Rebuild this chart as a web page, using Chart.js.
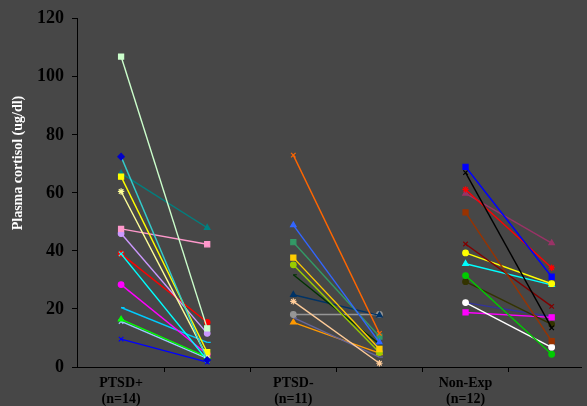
<!DOCTYPE html>
<html><head><meta charset="utf-8">
<script src="https://cdn.jsdelivr.net/npm/chart.js@4/dist/chart.umd.min.js"></script>
<style>html,body{margin:0;padding:0;background:#474747;overflow:hidden}#wrap{width:587px;height:406px;position:relative}canvas{display:block}</style>
</head><body><div id="wrap"><canvas id="c" width="587" height="406"></canvas></div>
<script>
// ---- data ----
const groupLabels = [["PTSD+", "(n=14)"], ["PTSD-", "(n=11)"], ["Non-Exp", "(n=12)"]];
const groupPositions = [1, 3, 5];           // pre-test positions; post = +1
const yTickValues = [0, 20, 40, 60, 80, 100, 120];
const yAxisTitle = "Plasma cortisol (ug/dl)";

const ptsdPlusPre  = [107, 72.5, 65.6, 66.7, 60.5, 47.6, 46, 39, 39, 28.4, 20.5, 16.4, 15.7, 9.6];
const ptsdPlusPost = [13.3, 2.4, 5.1, 48, 3.4, 42.3, 11.6, 2.4, 15.4, 4.4, 8.5, 3.4, 3, 1.7];

const ptsdMinusPre  = [73, 48.9, 43, 37.7, 35.2, 31.8, 24.9, 22.6, 18.1, 17, 15.4];
const ptsdMinusPost = [11.6, 8.5, 10.5, 6.2, 5, 7.9, 17.8, 1.3, 18.1, 3.4, 4.8];

const nonExpPre  = [69, 67, 61.2, 59.8, 53.3, 42.4, 39.3, 35.6, 31.5, 29.4, 22.2, 18.8, 22.2];
const nonExpPost = [31.1, 13.5, 34.2, 42.7, 8.9, 20.9, 28.7, 28.3, 4.4, 14.7, 6.8, 17.1, 17.3];

// ---- styles ----
const ptsdPlusLine   = ['#ccffcc','#33cccc','#ffff00','#008080','#ffff99','#ff99cc','#cc99ff','#00ffff','#ff0000','#ff00ff','#00ccff','#00ff00','#99ccff','#0000ff'];
const ptsdPlusMarker = ['#ccffcc','#0000cc','#ffff00','#008080','#ffff99','#ff99cc','#cc99ff','#00ffff','#ff0000','#ff00ff','#00ccff','#00ff00','#99ccff','#0000ff'];
const ptsdPlusShape  = ['rect','rectRot','rect','triangle','star','rect','circle','crossRot','circle','circle','dash','triangle','crossRot','crossRot'];

const ptsdMinusLine   = ['#ff6600','#3366ff','#339966','#ffcc00','#99cc00','#003300','#003366','#ffcc99','#969696','#666699','#ff9900'];
const ptsdMinusShape  = ['crossRot','triangle','rect','rect','circle','dash','triangle','star','circle','dash','triangle'];

const nonExpLine  = ['#0000ff','#000000','#ff0000','#993366','#993300','#800000','#ffff00','#00ffff','#00cc00','#333300','#ffffff','#ff00ff','#333399'];
const nonExpShape = ['rect','crossRot','star','triangle','rect','crossRot','circle','triangle','circle','circle','circle','rect',false];

const serif = '"Liberation Serif", "Times New Roman", serif';

function radiusFor(shape) {
  if (shape === 'circle') return 2.8;
  if (shape === 'rect') return 3.6;
  if (shape === 'dash') return 3.5;
  return 3.2;
}

function buildGroup(pre, post, xPre, lineColors, markerColors, shapes) {
  return pre.map((v, i) => ({
    data: [{x: xPre, y: v}, {x: xPre + 1, y: post[i]}],
    borderColor: lineColors[i],
    backgroundColor: markerColors[i],
    pointBorderColor: markerColors[i],
    pointBackgroundColor: markerColors[i],
    pointStyle: shapes[i],
    pointRadius: shapes[i] ? radiusFor(shapes[i]) : 0,
    pointBorderWidth: 1.2,
    borderWidth: 1.4,
    fill: false,
    tension: 0
  }));
}

const datasets = [
  ...buildGroup(ptsdPlusPre, ptsdPlusPost, groupPositions[0], ptsdPlusLine, ptsdPlusMarker, ptsdPlusShape),
  ...buildGroup(ptsdMinusPre, ptsdMinusPost, groupPositions[1], ptsdMinusLine, ptsdMinusLine, ptsdMinusShape),
  ...buildGroup(nonExpPre, nonExpPost, groupPositions[2], nonExpLine, nonExpLine, nonExpShape)
];

const yTitlePlugin = {
  id: 'yTitle',
  afterDraw(chart) {
    const ctx = chart.ctx;
    ctx.save();
    ctx.translate(18, 163);
    ctx.rotate(-Math.PI / 2);
    ctx.fillStyle = '#ffffff';
    ctx.font = 'bold 14px ' + serif;
    ctx.textAlign = 'center';
    ctx.textBaseline = 'middle';
    ctx.fillText(yAxisTitle, 0, 0);
    ctx.restore();
  }
};

new Chart(document.getElementById('c'), {
  type: 'line',
  data: { datasets },
  plugins: [yTitlePlugin],
  options: {
    responsive: false,
    animation: false,
    layout: { padding: { top: 16, left: 0, right: 0, bottom: 0 } },
    plugins: { legend: { display: false }, tooltip: { enabled: false } },
    scales: {
      x: {
        type: 'linear',
        min: 0.488,
        max: 6.35,
        afterBuildTicks(scale) {
          const vals = [1, 1.5, 2.5, 3, 3.5, 4.5, 5, 5.5];
          scale.ticks = vals.map(v => ({ value: v }));
        },
        afterFit(scale) { scale.height = 39; },
        border: { display: true, color: '#000000', width: 1 },
        grid: {
          drawOnChartArea: false,
          drawTicks: true,
          tickLength: 5,
          color: (ctx) => (ctx.tick && Number.isInteger(ctx.tick.value)) ? 'rgba(0,0,0,0)' : '#000000'
        },
        ticks: {
          autoSkip: false,
          maxRotation: 0,
          padding: 4,
          color: '#000000',
          font: { family: serif, size: 14, weight: 'bold', lineHeight: 1.1 },
          callback: (v) => {
            const i = groupPositions.indexOf(v);
            return i >= 0 ? groupLabels[i] : '';
          }
        }
      },
      y: {
        min: 0,
        max: 120,
        afterBuildTicks(scale) { scale.ticks = yTickValues.map(v => ({ value: v })); },
        afterFit(scale) { scale.width = 77; },
        border: { display: true, color: '#000000', width: 1 },
        grid: { drawOnChartArea: false, drawTicks: true, tickLength: 5, color: '#000000' },
        ticks: {
          padding: 8,
          color: '#000000',
          font: { family: serif, size: 18, weight: 'bold' }
        }
      }
    }
  }
});
</script>
</body></html>
